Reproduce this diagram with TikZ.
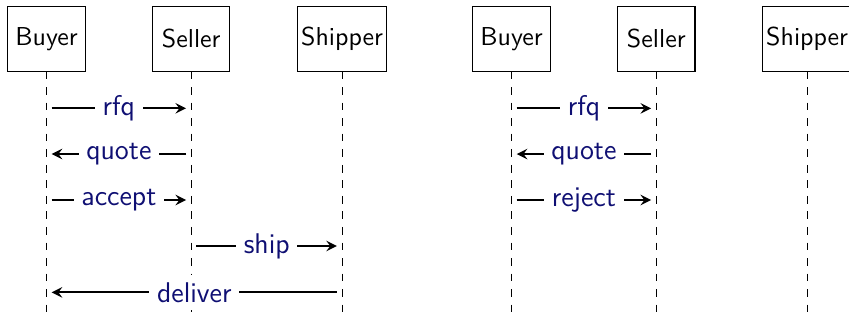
\documentclass[tikz,border=0pt]{standalone}
\usetikzlibrary{positioning}
\definecolor{msgblue}{rgb}{0.06,0.06,0.45}
\tikzset{
  actor/.style={draw,minimum width=1.05cm,minimum height=0.87cm,inner sep=1.5pt,font=\sffamily},
  lifeline/.style={dashed},
  msg/.style={->,thick,shorten >=2pt,shorten <=2pt},
  msglabel/.style={fill=white,text=msgblue,inner sep=3pt,font=\sffamily\fontsize{11}{13}\selectfont}
}
\begin{document}
\begin{tikzpicture}[>=stealth,x=1cm,y=1cm]
  \useasboundingbox (0,0) rectangle (11.52,-4.437);
  % rows of the messages and bottom of the lifelines
  \foreach \n/\y in {1/-1.470,2/-2.090,3/-2.714,4/-3.338,5/-3.967,end/-4.342}
    \coordinate (row\n) at (0,\y);
  % first run: accepted order
  \node[actor] (buyerA) at (0.631,-0.529) {Buyer};
  \node[actor,right=0.9cm of buyerA] (sellerA) {Seller};
  \node[actor,right=0.9cm of sellerA] (shipperA) {Shipper};
  % second run: rejected order
  \node[actor] (buyerB) at (6.941,-0.529) {Buyer};
  \node[actor,right=0.9cm of buyerB] (sellerB) {Seller};
  \node[actor,right=0.9cm of sellerB] (shipperB) {Shipper};
  \foreach \p in {buyerA,sellerA,shipperA,buyerB,sellerB,shipperB}
    \draw[lifeline] (\p.south) -- (\p |- rowend);
  % messages
  \draw[msg] (buyerA |- row1) -- node[msglabel] {rfq} (sellerA |- row1);
  \draw[msg] (sellerA |- row2) -- node[msglabel] {quote} (buyerA |- row2);
  \draw[msg] (buyerA |- row3) -- node[msglabel] {accept} (sellerA |- row3);
  \draw[msg] (sellerA |- row4) -- node[msglabel] {ship} (shipperA |- row4);
  \draw[msg] (shipperA |- row5) -- node[msglabel] {deliver} (buyerA |- row5);
  \draw[msg] (buyerB |- row1) -- node[msglabel] {rfq} (sellerB |- row1);
  \draw[msg] (sellerB |- row2) -- node[msglabel] {quote} (buyerB |- row2);
  \draw[msg] (buyerB |- row3) -- node[msglabel] {reject} (sellerB |- row3);
\end{tikzpicture}
\end{document}
